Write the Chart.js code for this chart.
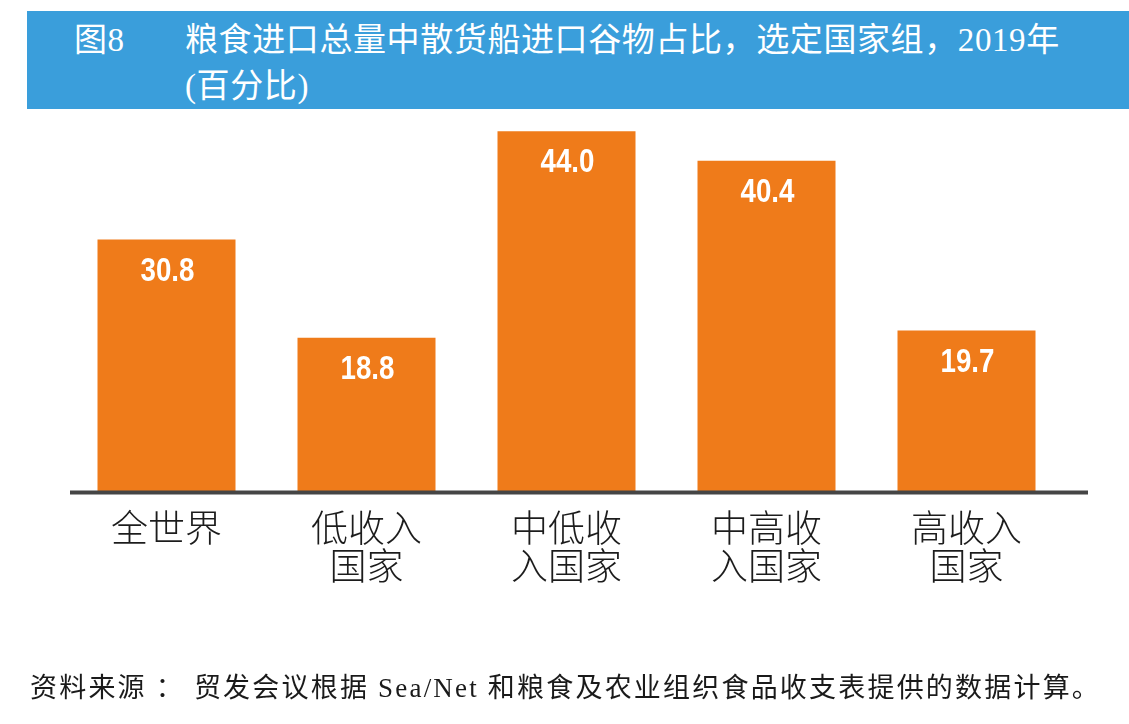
<!DOCTYPE html>
<html>
<head>
<meta charset="utf-8">
<script src="https://cdn.jsdelivr.net/npm/chart.js@4"></script>
<style>
  html, body { margin: 0; padding: 0; background: #ffffff; }
  #wrap { position: relative; width: 1129px; height: 724px; overflow: hidden; background: #fff; }
  #band { position: absolute; left: 27px; top: 11px; width: 1102px; height: 98px; background: #3A9EDB; }
  .t { position: absolute; color: #ffffff; font-family: 'Liberation Serif', 'Noto Sans CJK SC', serif; font-size: 33px; line-height: 40px; white-space: nowrap; letter-spacing: 0.6px; }
  #src { position: absolute; left: 30px; top: 671px; font-family: 'Liberation Serif', 'Noto Sans CJK SC', serif; font-size: 27px; line-height: 34px; color: #1a1a1a; white-space: nowrap; letter-spacing: 2.2px; }
  #chartBox { position: absolute; left: 0; top: 0; width: 1129px; height: 724px; }
</style>
</head>
<body>
<div id="wrap">
  <div id="band"></div>
  <div class="t" style="left:74px; top:20px;">图8</div>
  <div class="t" style="left:185px; top:20px;">粮食进口总量中散货船进口谷物占比，选定国家组，2019年</div>
  <div class="t" style="left:185px; top:66px;">(百分比)</div>
  <div id="chartBox"><canvas id="c" width="1129" height="724"></canvas></div>
  <div id="src">资料来源 ： 贸发会议根据 Sea/Net 和粮食及农业组织食品收支表提供的数据计算。</div>
</div>
<script>
// ---- data ----
const categories = [['全世界'], ['低收入', '国家'], ['中低收', '入国家'], ['中高收', '入国家'], ['高收入', '国家']];
const shares = [30.8, 18.8, 44.0, 40.4, 19.7];
const yMin = 0;
const yMax = 45;

const ORANGE = '#EF7B1A';

const baseLine = {
  id: 'baseLine',
  afterDatasetsDraw(chart) {
    const ctx = chart.ctx;
    const y = chart.scales.y.getPixelForValue(0) + 0.5;
    ctx.save();
    ctx.strokeStyle = '#454545';
    ctx.lineWidth = 4;
    ctx.beginPath();
    ctx.moveTo(70, y);
    ctx.lineTo(1088, y);
    ctx.stroke();
    ctx.restore();
  }
};

const valueLabels = {
  id: 'valueLabels',
  afterDatasetsDraw(chart) {
    const ctx = chart.ctx;
    const meta = chart.getDatasetMeta(0);
    meta.data.forEach((bar, i) => {
      const v = chart.data.datasets[0].data[i];
      ctx.save();
      ctx.fillStyle = '#ffffff';
      ctx.font = "bold 33px 'Liberation Sans', 'Roboto', sans-serif";
      ctx.textAlign = 'center';
      ctx.textBaseline = 'middle';
      ctx.translate(bar.x + 1, bar.y + 32);
      ctx.scale(0.84, 1);
      ctx.fillText(v.toFixed(1), 0, 0);
      ctx.restore();
    });
  }
};

new Chart(document.getElementById('c'), {
  type: 'bar',
  data: {
    labels: categories,
    datasets: [{
      data: shares,
      backgroundColor: ORANGE,
      borderWidth: 0,
      barPercentage: 0.69,
      categoryPercentage: 1.0
    }]
  },
  options: {
    responsive: false,
    animation: false,
    devicePixelRatio: 1,
    layout: { padding: { top: 123, left: 66.5, right: 62.5, bottom: 0 } },
    plugins: { legend: { display: false }, tooltip: { enabled: false }, title: { display: false } },
    scales: {
      y: { display: false, min: yMin, max: yMax },
      x: {
        grid: { display: false, drawTicks: false },
        border: { display: false },
        ticks: {
          color: '#1c1c1c',
          padding: 17.5,
          autoSkip: false,
          maxRotation: 0,
          font: { family: "'Noto Sans CJK SC', sans-serif", size: 37, weight: 300, lineHeight: 1.02 }
        },
        afterFit(scale) { scale.height = 232; }
      }
    }
  },
  plugins: [baseLine, valueLabels]
});
</script>
</body>
</html>
